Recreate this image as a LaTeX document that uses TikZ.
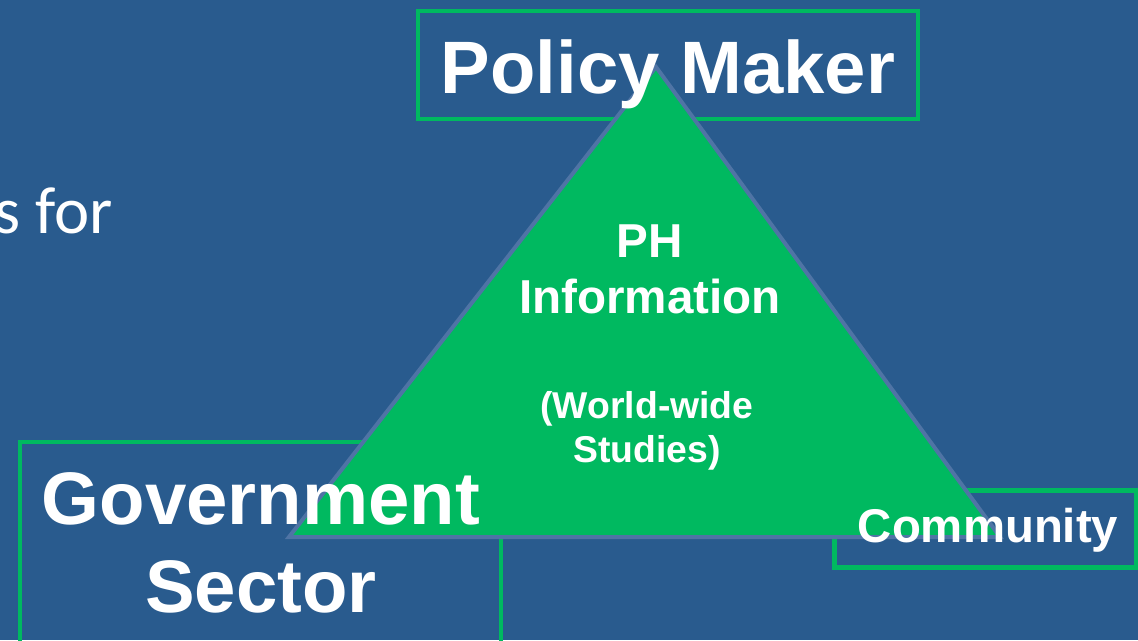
\documentclass[tikz,border=0pt]{standalone}
\usepackage{fontspec}
\setmainfont{Liberation Sans}
\newfontfamily\slidefont{Carlito}
\definecolor{slideblue}{HTML}{295B8E}
\definecolor{framegreen}{HTML}{00B960}
\definecolor{edgeblue}{HTML}{4F74A5}
\begin{document}
\begin{tikzpicture}[x=0.75pt,y=-0.75pt]
	\tikzset{frame/.style={draw=framegreen,line width=3.5pt},
		boxtext/.style={text=white,align=center,inner sep=0pt,anchor=base}}
	\fill[slideblue](0,0)rectangle(1138,640);
	\clip(0,0)rectangle(1138,640);
	\node(sfor)at(113,233)[anchor=base east,text=white,inner sep=0pt,font={\slidefont\fontsize{50}{60}\selectfont}]{s for};
	\draw[frame](418,11)rectangle(918,119);
	\draw[frame](20,442)rectangle(501,660);
	\draw[frame](834.5,490.5)rectangle(1136,567.5);
	\filldraw[fill=framegreen,draw=edgeblue,line width=3pt,line join=miter](656,67)--(1000,537)--(289,537)--cycle;
	\node(policy)at(668,93)[boxtext,font={\bfseries\fontsize{55.7}{65}\selectfont}]{Policy Maker};
	\node(gov)at(261,612)[boxtext,font={\bfseries\fontsize{55.8}{65.3}\selectfont}]{Government\\Sector};
	\node(comm)at(988,542)[boxtext,font={\bfseries\fontsize{35.5}{42}\selectfont}]{Community};
	\node(info)at(650,313)[boxtext,font={\bfseries\fontsize{35.7}{41.3}\selectfont}]{PH\\Information};
	\node(studies)at(647,462)[boxtext,font={\bfseries\fontsize{28}{33}\selectfont}]{(World-wide\\Studies)};
\end{tikzpicture}
\end{document}
